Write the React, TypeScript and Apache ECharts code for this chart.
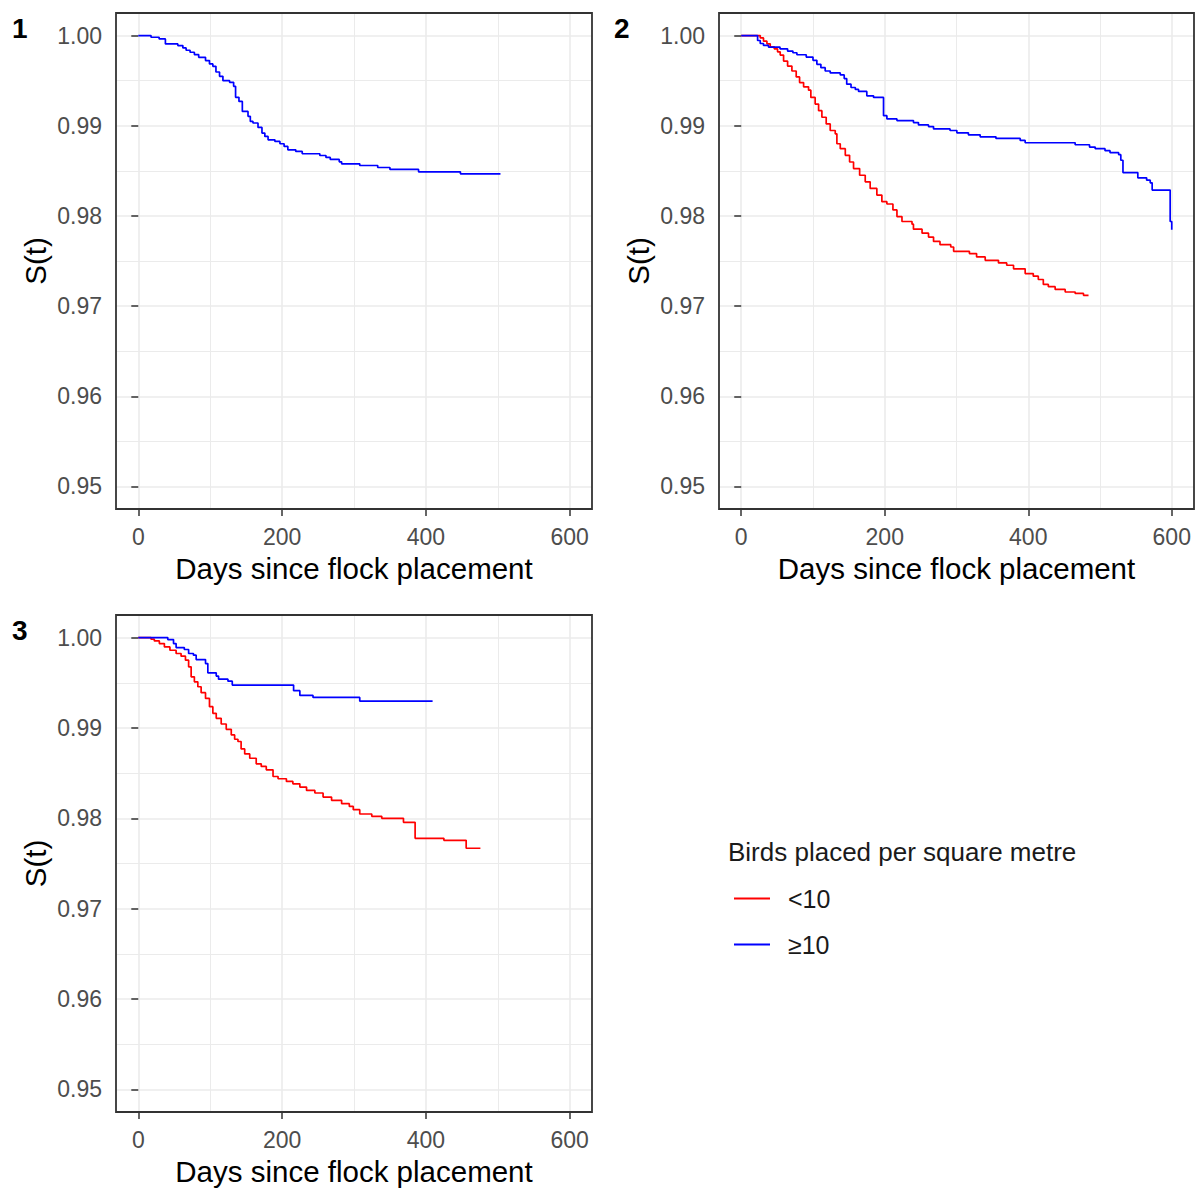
import React, { useEffect, useRef } from "react";
import * as echarts from "echarts";

// ---- Data ----
const xTickValues = [0, 200, 400, 600];
const yTickValues = [0.95, 0.96, 0.97, 0.98, 0.99, 1.0];

// Panel 1 – all flocks (≥10 colour)
const p1Days = [0, 17.7, 29, 37.7, 55, 62, 66.5, 72, 78, 84, 93.5, 99, 103.7, 108, 113, 117.7, 127, 132.6, 135.3, 140, 144.7, 152.6, 155.8, 159.5, 166.5, 172, 176, 180.5, 190, 197, 202.8, 208, 219, 228, 252.5, 261, 267, 279.5, 282.8, 308, 333, 350, 389.8, 448, 503.7];
const p1Surv = [1.0, 0.99981, 0.99963, 0.99907, 0.99889, 0.99863, 0.99837, 0.99815, 0.99789, 0.99759, 0.99722, 0.99685, 0.99659, 0.99596, 0.99548, 0.995, 0.99481, 0.99437, 0.99315, 0.9927, 0.99159, 0.99104, 0.99048, 0.9903, 0.98981, 0.98919, 0.98881, 0.98844, 0.98826, 0.988, 0.9877, 0.98733, 0.98715, 0.98689, 0.9867, 0.98648, 0.98626, 0.986, 0.98578, 0.98559, 0.98537, 0.98515, 0.98489, 0.98467, 0.98467];

// Panel 2
const p2LowDays = [0, 22.8, 26.5, 31, 35.8, 40.4, 46, 50.6, 54.3, 59, 64.6, 70.6, 76.6, 81.3, 86.9, 93.8, 97, 103, 107.8, 112.4, 118.4, 124, 131, 133.3, 138, 145, 151, 156.5, 165, 172.8, 179.7, 189, 196, 203, 211.4, 217, 224, 238, 240, 252, 261, 268, 277, 292, 296, 318, 328, 340, 358.5, 370, 379.5, 395.7, 407, 414, 421, 428, 437.5, 451.5, 465.4, 477, 484];
const p2LowSurv = [1.0, 1.0, 0.99974, 0.99938, 0.99908, 0.99875, 0.99853, 0.9982, 0.99783, 0.99717, 0.99662, 0.99607, 0.99541, 0.99479, 0.99431, 0.99394, 0.99314, 0.9924, 0.99167, 0.99094, 0.9902, 0.98947, 0.9891, 0.988, 0.98745, 0.98672, 0.98598, 0.98525, 0.98451, 0.98378, 0.98305, 0.98231, 0.98158, 0.98132, 0.98066, 0.97993, 0.97938, 0.97908, 0.97853, 0.97809, 0.97765, 0.97717, 0.97681, 0.97655, 0.97607, 0.97582, 0.97545, 0.97508, 0.97479, 0.97453, 0.97413, 0.97361, 0.97332, 0.97295, 0.9724, 0.97215, 0.97185, 0.97156, 0.97141, 0.97119, 0.97119];
const p2HighDays = [0, 22.8, 26.5, 31, 38, 54, 64.6, 72, 77.6, 90.6, 100, 105.4, 111, 117, 124, 138, 143.5, 147, 153, 159, 163.5, 175, 184.4, 198.3, 203, 217, 240, 247, 261, 268, 291, 300.5, 316.6, 333, 355, 388.8, 395.7, 465.4, 485.4, 493.3, 507, 514, 526, 529, 532, 552.7, 565, 570, 572.7, 597.8, 600];
const p2HighSurv = [1.0, 0.99945, 0.99912, 0.9989, 0.99872, 0.99853, 0.99828, 0.99809, 0.99787, 0.99761, 0.99725, 0.99681, 0.99644, 0.99607, 0.99585, 0.99563, 0.99523, 0.99461, 0.99424, 0.99402, 0.9938, 0.99332, 0.99314, 0.99112, 0.99075, 0.99057, 0.99035, 0.99009, 0.98991, 0.98965, 0.98947, 0.98921, 0.98899, 0.98877, 0.98859, 0.98837, 0.98811, 0.98789, 0.98763, 0.98745, 0.98723, 0.98701, 0.98679, 0.98617, 0.98481, 0.98422, 0.98396, 0.98367, 0.98286, 0.97938, 0.97846];

// Panel 3
const p3LowDays = [0, 17.7, 22.3, 29.3, 36.3, 44, 52.6, 59.5, 65.6, 70, 73.5, 78, 82.8, 87.4, 93.5, 99, 103.7, 108.4, 115.3, 122.3, 129.3, 134, 138.6, 143, 148, 155, 164, 171, 178, 187.4, 194.4, 206, 215, 224.7, 234, 245.6, 257, 268.8, 282.8, 293.5, 299, 308, 324.7, 338.6, 368.8, 385, 425, 456, 475.8];
const p3LowSurv = [1.0, 0.99982, 0.99963, 0.99934, 0.99897, 0.9986, 0.99824, 0.99794, 0.9975, 0.99676, 0.99566, 0.99511, 0.99456, 0.9939, 0.99327, 0.99235, 0.99162, 0.99107, 0.99044, 0.98985, 0.98923, 0.98875, 0.9885, 0.98768, 0.98713, 0.98665, 0.98603, 0.98574, 0.98537, 0.98463, 0.98438, 0.98408, 0.98382, 0.98346, 0.98309, 0.9828, 0.98235, 0.98199, 0.98162, 0.98132, 0.98096, 0.98048, 0.98022, 0.98, 0.97956, 0.97779, 0.97757, 0.97669, 0.97669];
const p3HighDays = [0, 41, 49, 52.6, 64, 70, 76.7, 80.5, 93.5, 96.7, 108.4, 111.6, 124.7, 130.7, 216, 224.7, 243, 308, 409.3];
const p3HighSurv = [1.0, 0.99978, 0.99934, 0.9989, 0.99868, 0.99824, 0.99805, 0.99757, 0.99713, 0.9961, 0.99574, 0.9954, 0.99518, 0.99474, 0.99412, 0.9936, 0.99338, 0.99298, 0.99298];

const seriesNames = ["<10", "≥10"];
const legendTitle = "Birds placed per square metre";
const xTitle = "Days since flock placement";
const yTitle = "S(t)";
const panelTags = ["1", "2", "3"];

const RED = "#FF0000";
const BLUE = "#0000FF";
const FONT = "'Liberation Sans', Arial, sans-serif";

const pairs = (xs: number[], ys: number[]) => xs.map((x, i) => [x, ys[i]]);

export default function App() {
  const ref = useRef<HTMLDivElement>(null);

  useEffect(() => {
    document.body.style.margin = "0";
    if (!ref.current) return;
    const chart = echarts.init(ref.current, null, { renderer: "svg" });

    const grids = [
      { left: 116, top: 13, width: 476, height: 496 },
      { left: 719, top: 13, width: 475, height: 496 },
      { left: 116, top: 615, width: 476, height: 497 },
    ];

    const xAxes = grids.map((_, i) => ({
      type: "value",
      gridIndex: i,
      min: -31,
      max: 631,
      splitNumber: 3,
      minInterval: 200,
      maxInterval: 200,
      name: xTitle,
      nameLocation: "middle",
      nameGap: 44,
      nameTextStyle: { fontSize: 29.5, color: "#000", fontFamily: FONT },
      axisLine: { show: false },
      axisTick: { show: true, length: 7, customValues: xTickValues, lineStyle: { color: "#333333", width: 1.5 } },
      axisLabel: { show: true, margin: 16, customValues: xTickValues, fontSize: 23, color: "#4D4D4D", fontFamily: FONT },
      splitLine: { show: true, lineStyle: { color: "#EBEBEB", width: 1.6 } },
      minorTick: { show: false, splitNumber: 2 },
      minorSplitLine: { show: true, lineStyle: { color: "#EBEBEB", width: 1 } },
    }));

    const yAxes = grids.map((_, i) => ({
      type: "value",
      gridIndex: i,
      min: 0.9475,
      max: 1.0025,
      splitNumber: 5,
      minInterval: 0.01,
      maxInterval: 0.01,
      name: yTitle,
      nameLocation: "middle",
      nameGap: 66,
      nameTextStyle: { fontSize: 29.5, color: "#000", fontFamily: FONT },
      axisLine: { show: false },
      axisTick: { show: true, length: 7, customValues: yTickValues, lineStyle: { color: "#333333", width: 1.5 } },
      axisLabel: {
        show: true,
        margin: 14,
        customValues: yTickValues,
        fontSize: 23,
        color: "#4D4D4D",
        fontFamily: FONT,
        formatter: (v: number) => v.toFixed(2),
      },
      splitLine: { show: true, lineStyle: { color: "#EBEBEB", width: 1.6 } },
      minorTick: { show: false, splitNumber: 2 },
      minorSplitLine: { show: true, lineStyle: { color: "#EBEBEB", width: 1 } },
    }));

    const mk = (name: string, color: string, idx: number, data: number[][]) => ({
      type: "line",
      name,
      xAxisIndex: idx,
      yAxisIndex: idx,
      step: "end",
      symbol: "none",
      showSymbol: false,
      color,
      lineStyle: { color, width: 1.7 },
      data,
      z: name === seriesNames[1] ? 3 : 2,
    });

    const series = [
      mk(seriesNames[1], BLUE, 0, pairs(p1Days, p1Surv)),
      mk(seriesNames[0], RED, 1, pairs(p2LowDays, p2LowSurv)),
      mk(seriesNames[1], BLUE, 1, pairs(p2HighDays, p2HighSurv)),
      mk(seriesNames[0], RED, 2, pairs(p3LowDays, p3LowSurv)),
      mk(seriesNames[1], BLUE, 2, pairs(p3HighDays, p3HighSurv)),
    ];

    const legendBase = {
      orient: "vertical",
      left: 734,
      itemWidth: 36,
      itemHeight: 2,
      icon: "rect",
      padding: 0,
      selectedMode: false,
      textStyle: { fontSize: 25, color: "#1A1A1A", fontFamily: FONT, padding: [0, 0, 0, 13] },
    };

    const tagPos = [
      { x: 12, y: 14 },
      { x: 614, y: 14 },
      { x: 12, y: 616 },
    ];

    chart.setOption({
      animation: false,
      backgroundColor: "#FFFFFF",
      grid: grids.map((g) => ({ ...g, show: true, borderColor: "#333333", borderWidth: 1.8, backgroundColor: "transparent", z: 5 })),
      xAxis: xAxes,
      yAxis: yAxes,
      series,
      legend: [
        { ...legendBase, data: [seriesNames[0]], top: 886 },
        { ...legendBase, data: [seriesNames[1]], top: 932 },
      ],
      graphic: [
        ...panelTags.map((t, i) => ({
          type: "text",
          left: tagPos[i].x,
          top: tagPos[i].y,
          style: { text: t, fontSize: 28, fontWeight: "bold", fill: "#000", fontFamily: FONT },
        })),
        {
          type: "text",
          left: 728,
          top: 839,
          style: { text: legendTitle, fontSize: 26, fill: "#1A1A1A", fontFamily: FONT },
        },
      ],
    });

    return () => chart.dispose();
  }, []);

  return <div ref={ref} style={{ width: 1200, height: 1189 }} />;
}
